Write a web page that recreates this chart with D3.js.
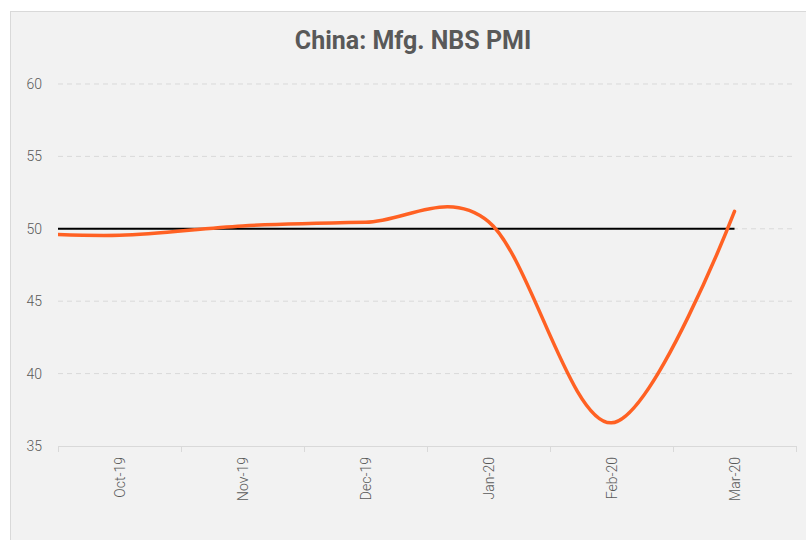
<!DOCTYPE html>
<html>
<head>
<meta charset="utf-8">
<script src="https://cdn.jsdelivr.net/npm/d3@7"></script>
<style>
  html, body { margin: 0; padding: 0; background: #ffffff; }
  svg { display: block; }
</style>
</head>
<body>
<svg id="chart" width="806" height="540"></svg>
<script>
// ---- data ----
const title = "China: Mfg. NBS PMI";
const categories = ["Oct-19", "Nov-19", "Dec-19", "Jan-20", "Feb-20", "Mar-20"];
// the line starts one month before the first label (clipped at the plot edge)
const lineMonths = ["Sep-19", "Oct-19", "Nov-19", "Dec-19", "Jan-20", "Feb-20", "Mar-20"];
const pmiValues = [49.8, 49.55, 50.2, 50.45, 50.5, 36.6, 51.2];
const threshold = 50;
const yTicks = [35, 40, 45, 50, 55, 60];

// ---- layout ----
const svg = d3.select("#chart");
const W = 806, H = 540;
const plot = { left: 58, right: 796, top: 84, bottom: 446 };

// panel background
svg.append("rect")
  .attr("x", 10.5).attr("y", 11.5)
  .attr("width", W).attr("height", H)
  .attr("fill", "#f2f2f2")
  .attr("stroke", "#d9d9d9").attr("stroke-width", 1);

svg.append("text")
  .attr("x", 413).attr("y", 49)
  .attr("text-anchor", "middle")
  .attr("font-family", "Roboto, 'Noto Sans', sans-serif")
  .attr("font-weight", 700)
  .attr("font-size", 25)
  .attr("fill", "#595959")
  .text(title);

// scales
const x = d3.scaleBand().domain(categories).range([plot.left, plot.right]).padding(0);
const bw = x.bandwidth();
const xIdx = d3.scaleLinear().domain([-0.5, categories.length - 0.5]).range([plot.left, plot.right]);
const y = d3.scaleLinear().domain([35, 60]).range([plot.bottom, plot.top]);

// gridlines
svg.append("g").selectAll("line")
  .data(yTicks.filter(d => d !== 35))
  .join("line")
  .attr("x1", plot.left).attr("x2", plot.right)
  .attr("y1", d => y(d)).attr("y2", d => y(d))
  .attr("stroke", "#d9d9d9").attr("stroke-width", 1)
  .attr("stroke-dasharray", "5,4");

// y axis labels
const yAxis = d3.axisLeft(y).tickValues(yTicks).tickSize(0).tickPadding(16).tickFormat(d3.format("d"));
const gy = svg.append("g").attr("transform", `translate(${plot.left},0)`).call(yAxis);
gy.select(".domain").remove();
gy.selectAll("text")
  .attr("font-family", "Roboto, 'Noto Sans', sans-serif")
  .attr("font-weight", 300)
  .attr("font-size", 14)
  .attr("fill", "#595959");

// x axis
svg.append("line")
  .attr("x1", plot.left).attr("x2", plot.right)
  .attr("y1", plot.bottom + 0.5).attr("y2", plot.bottom + 0.5)
  .attr("stroke", "#d9d9d9").attr("stroke-width", 1);
const boundaries = categories.map(c => x(c)).concat([x(categories[categories.length - 1]) + bw]);
svg.append("g").selectAll("line")
  .data(boundaries)
  .join("line")
  .attr("x1", d => Math.round(d) + 0.5).attr("x2", d => Math.round(d) + 0.5)
  .attr("y1", plot.bottom).attr("y2", plot.bottom + 6)
  .attr("stroke", "#d9d9d9").attr("stroke-width", 1);

svg.append("g").selectAll("text")
  .data(categories)
  .join("text")
  .attr("transform", d => `translate(${x(d) + bw / 2 + 5},${plot.bottom + 11}) rotate(-90)`)
  .attr("text-anchor", "end")
  .attr("font-family", "Roboto, 'Noto Sans', sans-serif")
  .attr("font-weight", 300)
  .attr("font-size", 14)
  .attr("fill", "#595959")
  .text(d => d);

// threshold line at 50
svg.append("line")
  .attr("x1", plot.left)
  .attr("x2", x(categories[categories.length - 1]) + bw / 2)
  .attr("y1", y(threshold)).attr("y2", y(threshold))
  .attr("stroke", "#000000").attr("stroke-width", 2);

// clip for the line
svg.append("clipPath").attr("id", "clip")
  .append("rect")
  .attr("x", plot.left).attr("y", 0)
  .attr("width", W - plot.left).attr("height", H);

const pts = lineMonths.map((m, i) => ({ m, i: i - 1, v: pmiValues[i] }));
const line = d3.line()
  .x(d => xIdx(d.i))
  .y(d => y(d.v))
  .curve(d3.curveCardinal.tension(0));

svg.append("path")
  .datum(pts)
  .attr("clip-path", "url(#clip)")
  .attr("d", line)
  .attr("fill", "none")
  .attr("stroke", "#ff6123")
  .attr("stroke-width", 3.5)
  .attr("stroke-linecap", "round")
  .attr("stroke-linejoin", "round");
</script>
</body>
</html>
